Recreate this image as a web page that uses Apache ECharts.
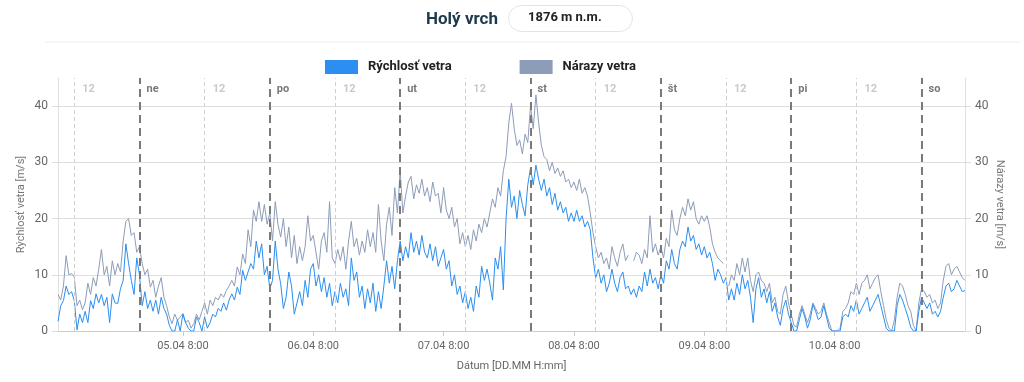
<!DOCTYPE html>
<html><head><meta charset="utf-8">
<script src="https://cdn.jsdelivr.net/npm/echarts@6/dist/echarts.min.js"></script>
<style>html,body{margin:0;padding:0;background:#fff;}#c{width:1024px;height:382px;}</style>
</head><body><div id="c"></div>
<script>
// hours counted from 04.04.2020 00:00, one value every 30 minutes starting at 09:00
const startHour = 9;
const stepHours = 0.5;
const speed = [
1.7,4.5,5.4,8,6.5,7,5.4,0.2,3,1.5,3.5,1.5,5.4,4,6.6,5,6.5,4.5,6,1.5,6.6,5,4.9,7.5,9,15.5,12,9,6.5,13,10,
4.5,7,4,5.5,3.5,5.5,3,6,4,3,1,0,0,2,0,3,1.5,0.5,0,0,2.5,1.5,0,2.5,0.5,1.5,3,2.5,4,3.5,5,3.7,5.5,6.6,5.5,7.8,6.5,10.8,9,10.5,12,11,16,13,15.5,10,11.5,7.5,
9,16,11,8.4,4,6,10.5,8,3,5,7,4.5,9,6,11,12,8,10,7,9.5,6,8.5,4.5,7,5,8.5,6,7.5,4.5,13,9,10.5,6,8,4,7.5,5,8.5,3.5,7,4,8,12.5,8.5,11.5,7.5,12.5,16,
12.5,15,13,17.5,14,16,13.5,17,14,13,15.5,12.5,15,11.5,13,14.5,11,12.5,8,10,6.5,8,5,7,4,6,3.5,8,6,11.5,9,11,8.5,5.5,13,11,15,7.3,20,27,22,24,20,25,22.5,20.5,26,29,
26,29.5,27,25,27,24,25.5,22.5,24.5,21.5,23,21,22,19.5,21,19.5,21.5,19.5,20.5,18.5,19.5,18,13,9.5,11,8.5,10,7,8.5,11,8.5,7,9.5,10.5,7.5,8,6.5,7.5,6,8,7,10.5,8,11,8.5,9.5,7.5,10,
8.5,12.5,11,14.5,12,11,14.5,16,15,18.5,16,17,14.5,15.5,13.5,15,13,14,12,9,11,10,8.5,9.5,5.5,7.5,5.5,8.5,6.5,10,7.5,9,6,1.5,7.5,9.5,6,7.5,5,7,3.5,5,2.5,1,4,5.5,3,1.5,
0,0,2,4,2.5,0.5,2,4.7,3.5,2,2.5,4.5,2.5,0.5,0,0,0,0,2.5,3,2.5,4.5,3.5,5.5,3,4,5,6,3.5,4.5,5.5,6.5,4.5,2.5,0.5,0,0,0,4.5,6.5,5.5,4,2.5,0.7,0,0,3.5,6,5,4,5,3,3.5,2.5,3.5,6,8,8.5,7,7.5,9,8,7,7.2
];
const gusts = [
6.5,5.5,8,13.4,10,10.2,9.6,4.5,5.5,3.8,5,8.5,6.5,9.5,8,11,14.5,10,11.5,8,12.5,10,12,10.5,16,19.5,20,17,17.5,14,15,
12,10,11,7.8,9,6,8,9.5,6,4.5,2.5,1.3,3,1.9,2.5,3.1,1.5,1.9,0.5,1.3,3,2,3.5,5,3,5.5,4.5,6,5.5,6.6,6,7.2,8,9,8,11.4,10,13.7,12,18,15,21.5,19.5,23,19.5,22.5,19,21,
16,23,19,16.7,20,15,18.5,13,17,12,15,12.5,15,20.5,16,17,14,11,16,17.5,14,23,13,12,14.5,12.5,15,11,16,19.5,15,16.5,13.5,16,14,18,15,17.5,14,22.5,16,12.5,19,22,17,25.5,21,28.5,
21,24,26.5,27.5,23.5,26,24.5,27,24,25.5,23,26.5,24,24.5,21,25.5,21.5,20,22,18.5,20,15.5,17.5,15,17,14.5,18,16,19,17.5,20,18.5,21,23.5,22,25.5,24,28.5,31,37,40.5,36,33,34,31.5,35,33.5,40,
36,42,37,33,31,30.5,28.5,30,28,29,27.5,28.5,26.5,27,25.5,26.5,25,27,24.5,25.5,24,21,17.5,15,13,14,12,13,11,15,13,11.5,14,15.5,12.5,13.5,null,12.5,14,13.5,12,14.5,13,20.5,14,15.5,13.5,15,
13,16.5,15,21.5,18,17,20,22,20.5,23.5,21.5,23,20,19,20.5,19.5,20.5,18.5,15.5,14,13,12.5,12,null,8,10,9,12,10,13,10.5,13,9,7,10,10.5,9,8.5,7,8.5,5,6,3.5,3,6.5,8,5,3,
1,0.7,3,4.5,3,1.5,3,5,4,3,3.5,5,3,1.5,0,0,0,0.5,3.5,4,5,7,6.5,8.5,6.5,8.5,9,10,7.5,8.5,9.5,10,7,4.5,2,0.5,0,2,6,8.5,8,6.5,4.5,3.5,1,0,5,7.5,7,6,6.5,5,5.5,4,5,9,11.5,12,10,11,11.5,10.5,9.5,9
];
const dayNames = ['ne','po','ut','st','št','pi','so'];
const midnightHours = [24,48,72,96,120,144,168];
const noonHours = [12,36,60,84,108,132,156];
const labelHours = [32,56,80,104,128,152];
const yTicks = [0,10,20,30,40];
const xMin = 9, xMax = 176, yMax = 45, markY = 43;

const toPairs = arr => arr.map((v,i)=>[startHour+i*stepHours, v]);
const fmtHour = h => { const d = 4 + Math.floor(h/24); const hh = h % 24; return String(d).padStart(2,'0') + '.04 ' + hh + ':00'; };

const chart = echarts.init(document.getElementById('c'));
const markLines = midnightHours.map(h=>({xAxis:h, lineStyle:{color:'#7a7a7a', width:2, type:[8,5]}}))
  .concat(noonHours.map(h=>({xAxis:h, lineStyle:{color:'#cfcfcf', width:1, type:[4,3]}})));

chart.setOption({
  animation:false,
  textStyle:{fontFamily:'Roboto, Arial, sans-serif'},
  title:{text:'Holý vrch', left:421, top:6, textStyle:{fontSize:17, fontWeight:'bold', color:'#1d3a4c', fontFamily:'Roboto, Arial, sans-serif'}},
  graphic:[
    {type:'rect', left:508, top:5, shape:{width:124, height:26, r:13}, style:{fill:'#fff', stroke:'#e3e3e3', lineWidth:1}},
    {type:'text', left:528, top:11, style:{text:'1876 m n.m.', fontSize:13, fontWeight:'bold', fill:'#222', fontFamily:'Roboto, Arial, sans-serif'}},
    {type:'line', shape:{x1:45, y1:42, x2:1020, y2:42}, style:{stroke:'#ececec', lineWidth:1}}
  ],
  legend:{top:55, left:320, itemWidth:33, itemHeight:14, itemGap:68, icon:'rect',
    data:['Rýchlosť vetra','Nárazy vetra'],
    textStyle:{fontSize:13, fontWeight:'bold', color:'#222', padding:[0,0,0,5]}},
  grid:{left:58, right:59, top:78, bottom:51, containLabel:false},
  xAxis:{type:'value', min:xMin, max:xMax,
    name:'Dátum [DD.MM H:mm]', nameLocation:'middle', nameGap:30, nameTextStyle:{color:'#666', fontSize:11},
    axisLine:{lineStyle:{color:'#ccc'}},
    axisTick:{customValues:labelHours, length:5, lineStyle:{color:'#ccc'}},
    axisLabel:{customValues:labelHours, formatter:fmtHour, color:'#666', fontSize:11, margin:10},
    splitLine:{show:false}},
  yAxis:[
    {type:'value', min:0, max:yMax, interval:10, position:'left',
     name:'Rýchlosť vetra [m/s]', nameLocation:'middle', nameGap:31, nameMoveOverlap:false, nameTextStyle:{color:'#777', fontSize:11},
     axisLine:{show:true, lineStyle:{color:'#e0e0e0'}},
     axisTick:{show:true, customValues:yTicks, length:6, lineStyle:{color:'#ddd'}},
     axisLabel:{customValues:yTicks, color:'#666', fontSize:12, margin:10},
     splitLine:{lineStyle:{color:'#dedede'}}},
    {type:'value', min:0, max:yMax, interval:10, position:'right',
     name:'Nárazy vetra [m/s]', nameLocation:'middle', nameGap:29, nameMoveOverlap:false, nameRotate:-90, nameTextStyle:{color:'#777', fontSize:11},
     axisLine:{show:true, lineStyle:{color:'#e0e0e0'}},
     axisTick:{show:true, customValues:yTicks, length:6, lineStyle:{color:'#ddd'}},
     axisLabel:{customValues:yTicks, color:'#666', fontSize:12, margin:10},
     splitLine:{show:false}}
  ],
  series:[
    {name:'Nárazy vetra', type:'line', yAxisIndex:1, data:toPairs(gusts), showSymbol:false, symbol:'none',
     lineStyle:{color:'#8d9cb8', width:1}, itemStyle:{color:'#8d9cb8'}, connectNulls:false, z:2},
    {name:'Rýchlosť vetra', type:'line', yAxisIndex:0, data:toPairs(speed), showSymbol:false, symbol:'none',
     lineStyle:{color:'#2b8ef0', width:1}, itemStyle:{color:'#2b8ef0'}, z:3,
     markLine:{silent:true, symbol:['none','none'], label:{show:false}, data:markLines}},
    {name:'days', type:'scatter', yAxisIndex:0, symbolSize:0, silent:true,
     data:midnightHours.map((h,i)=>({value:[h, markY], label:{formatter:dayNames[i]}})),
     label:{show:true, position:'right', distance:7, color:'#555', fontSize:11, fontWeight:'bold'}},
    {name:'noon', type:'scatter', yAxisIndex:0, symbolSize:0, silent:true,
     data:noonHours.map(h=>[h, markY]),
     label:{show:true, position:'right', distance:8, formatter:'12', color:'#bbb', fontSize:11, fontWeight:'bold'}}
  ]
});
</script></body></html>
